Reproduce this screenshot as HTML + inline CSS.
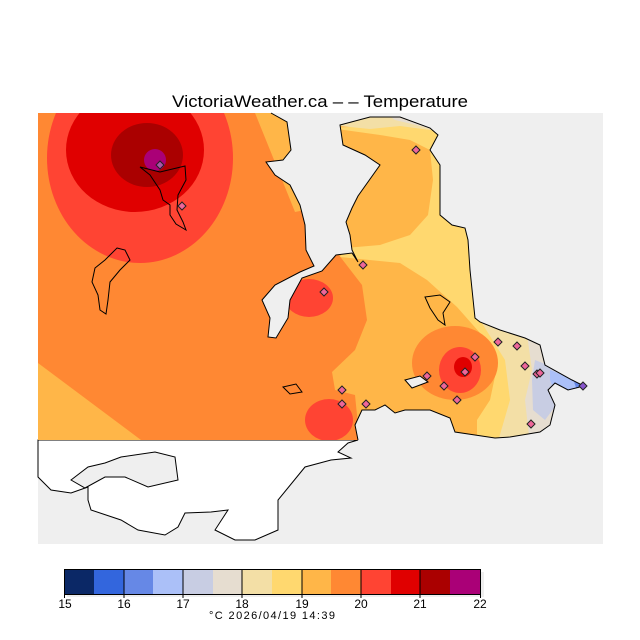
<!DOCTYPE html>
<html><head><meta charset="utf-8"><style>
html,body{margin:0;padding:0;background:#fff;}
svg{display:block;}
text{font-family:"Liberation Sans",sans-serif;fill:#000;}
</style></head><body>
<svg width="640" height="640" viewBox="0 0 640 640" xmlns="http://www.w3.org/2000/svg">
<defs>
<clipPath id="land">
<path id="lp" d="M38,113 L271,113 L287,122 L291,150 L283,160 L266,162 L275,175 L290,185 L300,205 L305,225 L306,250 L314,266 L300,272 L275,285 L262,300 L270,318 L268,337 L276,338 L288,318 L290,300 L302,278 L322,271 L336,255 L352,253 L358,262 L352,250 L350,235 L346,222 L352,208 L358,196 L380,165 L365,155 L343,145 L340,125 L370,117 L400,117 L430,128 L438,135 L430,150 L440,165 L440,190 L440,215 L452,225 L465,228 L468,240 L470,270 L475,318 L480,322 L500,330 L525,338 L540,345 L545,365 L572,380 L584,386 L568,390 L555,383 L548,390 L555,405 L550,425 L540,432 L510,437 L495,438 L475,435 L455,432 L450,418 L430,410 L405,410 L395,413 L385,405 L375,410 L362,410 L355,425 L358,440 L38,440 Z"/>
</clipPath>
</defs>
<rect x="38" y="113" width="565" height="431" fill="#efefef"/>
<path d="M38,440 L358,440 L348,443 L338,452 L351,458 L331,460 L305,467 L278,500 L278,530 L255,540 L235,540 L215,530 L228,510 L211,512 L185,513 L178,527 L165,535 L138,530 L121,520 L91,510 L88,500 L88,487 L71,493 L51,490 L38,477 Z" fill="#fff" stroke="#000" stroke-width="1"/>
<path d="M71,480 L88,467 L105,463 L121,457 L155,452 L175,457 L178,480 L148,487 L125,477 L105,477 L85,488 Z" fill="#efefef" stroke="#000" stroke-width="1"/>
<g clip-path="url(#land)">
<rect x="38" y="113" width="565" height="330" fill="#ff8833"/>
<path d="M38,363 L141,440 L38,440 Z" fill="#ffb648"/>
<path d="M255,113 L300,113 L305,210 L295,212 L270,150 Z" fill="#ffb648"/>
<path d="M320,113 L335,250 L362,285 L367,320 L355,350 L332,372 L335,390 L355,395 L360,445 L620,445 L620,113 Z" fill="#ffb648"/>
<path d="M330,128 L380,135 L410,140 L430,150 L433,180 L428,215 L410,235 L380,245 L345,248 L340,257 L400,263 L427,280 L457,307 L480,333 L497,367 L490,400 L477,420 L477,445 L620,445 L620,113 Z" fill="#ffd86f"/>
<path d="M330,113 L445,113 L445,132 L400,126 L370,129 L330,125 Z" fill="#f3dfa6"/>
<path d="M385,113 L445,113 L445,133 L420,126 L395,120 Z" fill="#e6ddd0"/>
<path d="M480,320 L505,360 L510,400 L497,445 L620,445 L620,320 Z" fill="#f3dfa6"/>
<path d="M525,320 L532,370 L525,400 L530,445 L620,445 L620,320 Z" fill="#e6ddd0"/>
<path d="M535,360 L560,370 L575,385 L560,400 L545,420 L533,410 L532,380 Z" fill="#c8cde3"/>
<path d="M550,370 L580,382 L575,395 L555,392 L550,380 Z" fill="#abc0f8"/>
<path d="M574,382 L592,387 L578,393 Z" fill="#6688e6"/>
<ellipse cx="455" cy="363" rx="43" ry="37" fill="#ff8833"/>
<ellipse cx="460" cy="370" rx="21" ry="23" fill="#ff4433"/>
<ellipse cx="463" cy="367" rx="9" ry="10" fill="#e00000"/>
<ellipse cx="309" cy="298" rx="24" ry="19" fill="#ff4433"/>
<ellipse cx="329" cy="420" rx="24" ry="21" fill="#ff4433"/>
<ellipse cx="140" cy="158" rx="93" ry="105" fill="#ff4433"/>
<ellipse cx="135" cy="150" rx="69" ry="62" fill="#e00000"/>
<ellipse cx="147" cy="155" rx="36" ry="32" fill="#aa0000"/>
<circle cx="155" cy="160" r="11" fill="#aa0077"/>
</g>
<path d="M271,113 L287,122 L291,150 L283,160 L266,162 L275,175 L290,185 L300,205 L305,225 L306,250 L314,266 L300,272 L275,285 L262,300 L270,318 L268,337 L276,338 L288,318 L290,300 L302,278 L322,271 L336,255 L352,253 L358,262 L352,250 L350,235 L346,222 L352,208 L358,196 L380,165 L365,155 L343,145 L340,125 L370,117 L400,117 L430,128 L438,135 L430,150 L440,165 L440,190 L440,215 L452,225 L465,228 L468,240 L470,270 L475,318 L480,322 L500,330 L525,338 L540,345 L545,365 L572,380 L584,386 L568,390 L555,383 L548,390 L555,405 L550,425 L540,432 L510,437 L495,438 L475,435 L455,432 L450,418 L430,410 L405,410 L395,413 L385,405 L375,410 L362,410 L355,425 L358,440" fill="none" stroke="#000" stroke-width="1"/>
<path d="M140,167 L160,172 L185,166 L186,180 L178,195 L177,210 L183,222 L186,230 L176,224 L170,215 L170,205 L163,200 L160,190 L150,175 Z" fill="none" stroke="#000" stroke-width="1"/>
<path d="M117,248 L125,250 L130,260 L120,270 L110,282 L108,300 L106,314 L100,310 L98,295 L92,282 L95,268 L105,260 Z" fill="none" stroke="#000" stroke-width="1"/>
<path d="M425,297 L440,295 L450,302 L443,313 L445,325 L438,320 L430,308 Z" fill="none" stroke="#000" stroke-width="1"/>
<path d="M283,387 L296,384 L302,392 L290,394 Z" fill="none" stroke="#000" stroke-width="1"/>
<path d="M405,380 L420,376 L428,382 L412,388 Z" fill="#efefef" stroke="#000" stroke-width="1"/>
<g fill="#ee6699" stroke="#222" stroke-width="1">
<path d="M160,161 l4,4 l-4,4 l-4,-4 Z" fill="#aa55aa"/>
<path d="M182,202 l4,4 l-4,4 l-4,-4 Z"/>
<path d="M416,146 l4,4 l-4,4 l-4,-4 Z"/>
<path d="M363,261 l4,4 l-4,4 l-4,-4 Z"/>
<path d="M324,288 l4,4 l-4,4 l-4,-4 Z"/>
<path d="M498,338 l4,4 l-4,4 l-4,-4 Z"/>
<path d="M517,342 l4,4 l-4,4 l-4,-4 Z"/>
<path d="M475,353 l4,4 l-4,4 l-4,-4 Z"/>
<path d="M465,368 l4,4 l-4,4 l-4,-4 Z"/>
<path d="M525,362 l4,4 l-4,4 l-4,-4 Z"/>
<path d="M537,370 l4,4 l-4,4 l-4,-4 Z"/>
<path d="M540,369 l4,4 l-4,4 l-4,-4 Z"/>
<path d="M583,382 l4,4 l-4,4 l-4,-4 Z" fill="#8855cc"/>
<path d="M427,372 l4,4 l-4,4 l-4,-4 Z"/>
<path d="M444,382 l4,4 l-4,4 l-4,-4 Z"/>
<path d="M342,386 l4,4 l-4,4 l-4,-4 Z"/>
<path d="M342,400 l4,4 l-4,4 l-4,-4 Z"/>
<path d="M366,400 l4,4 l-4,4 l-4,-4 Z"/>
<path d="M457,396 l4,4 l-4,4 l-4,-4 Z"/>
<path d="M531,420 l4,4 l-4,4 l-4,-4 Z"/>
</g>
<text x="320" y="107" font-size="17" text-anchor="middle" textLength="296" lengthAdjust="spacingAndGlyphs">VictoriaWeather.ca  – –  Temperature</text>
<rect x="67" y="572" width="417" height="25" fill="#eeeeee"/>
<g stroke="none">
<rect x="64" y="569" width="30" height="25" fill="#0b2866"/>
<rect x="94" y="569" width="30" height="25" fill="#3366dd"/>
<rect x="124" y="569" width="29" height="25" fill="#6688e6"/>
<rect x="153" y="569" width="30" height="25" fill="#abc0f8"/>
<rect x="183" y="569" width="30" height="25" fill="#c8cde3"/>
<rect x="213" y="569" width="29" height="25" fill="#e6ddd0"/>
<rect x="242" y="569" width="30" height="25" fill="#f3dfa6"/>
<rect x="272" y="569" width="30" height="25" fill="#ffd86f"/>
<rect x="302" y="569" width="29" height="25" fill="#ffb648"/>
<rect x="331" y="569" width="30" height="25" fill="#ff8833"/>
<rect x="361" y="569" width="30" height="25" fill="#ff4433"/>
<rect x="391" y="569" width="29" height="25" fill="#e00000"/>
<rect x="420" y="569" width="30" height="25" fill="#aa0000"/>
<rect x="450" y="569" width="31" height="25" fill="#aa0077"/>
</g>
<rect x="64.5" y="569.5" width="416" height="25" fill="none" stroke="#000"/>
<g stroke="#000">
<line x1="124" y1="569" x2="124" y2="598"/><line x1="183" y1="569" x2="183" y2="598"/>
<line x1="242" y1="569" x2="242" y2="598"/><line x1="302" y1="569" x2="302" y2="598"/>
<line x1="361" y1="569" x2="361" y2="598"/><line x1="420" y1="569" x2="420" y2="598"/>
<line x1="64.5" y1="569" x2="64.5" y2="598"/><line x1="480.5" y1="569" x2="480.5" y2="598"/>
</g>
<g font-size="12" text-anchor="middle">
<text x="65" y="608">15</text><text x="124" y="608">16</text><text x="183" y="608">17</text>
<text x="242" y="608">18</text><text x="302" y="608">19</text><text x="361" y="608">20</text>
<text x="420" y="608">21</text><text x="480" y="608">22</text>
</g>
<text x="272" y="619" font-size="11" text-anchor="middle" textLength="126" lengthAdjust="spacing">°C  2026/04/19 14:39</text>
</svg>
</body></html>
